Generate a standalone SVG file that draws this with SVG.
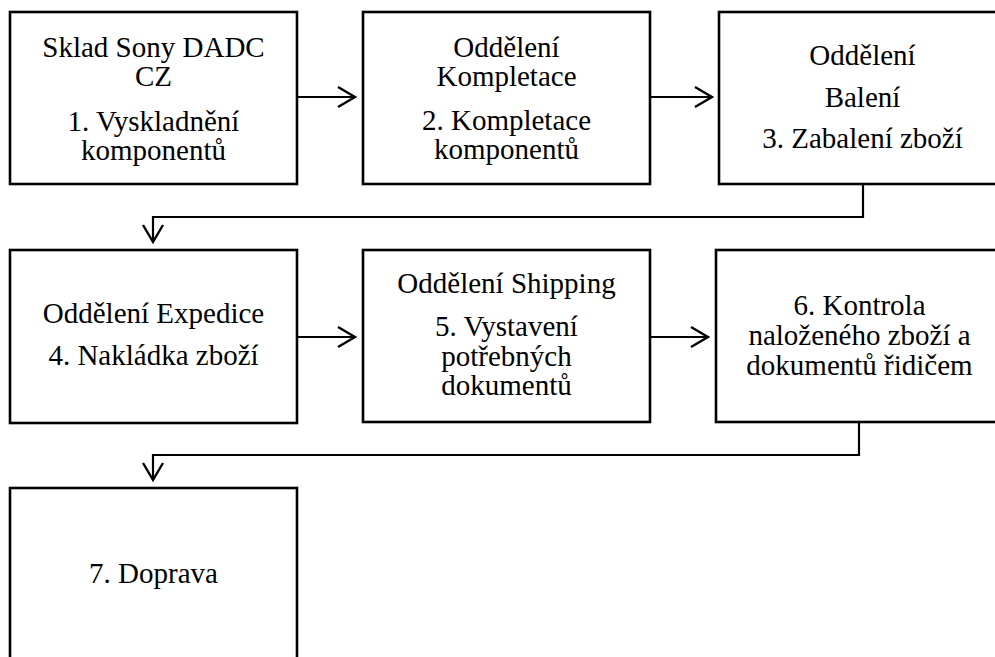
<svg xmlns="http://www.w3.org/2000/svg" width="995" height="657" viewBox="0 0 995 657">
<style>
.box{fill:#fff;stroke:#000;stroke-width:2.6}
.t{font-family:"Liberation Serif","Times New Roman",serif;font-size:29px;fill:#000;text-anchor:middle}
.c{fill:none;stroke:#000;stroke-width:2.2;marker-end:url(#arr)}
</style>
<defs>
<marker id="arr" markerUnits="userSpaceOnUse" viewBox="0 0 20 22" refX="18" refY="11" markerWidth="20" markerHeight="22" orient="auto" overflow="visible">
<path d="M1,1 L18,11 L1,21" fill="none" stroke="#000" stroke-width="2.4"/>
</marker>
</defs>
<rect width="995" height="657" fill="#fff"/>
<g id="n1"><rect class="box" x="10" y="12" width="287" height="172"/>
<text class="t" x="153.5" y="57">Sklad Sony DADC</text><text class="t" x="153.5" y="86">CZ</text>
<text class="t" x="153.5" y="131">1. Vyskladnění</text><text class="t" x="153.5" y="160">komponentů</text></g>
<g id="n2"><rect class="box" x="363" y="12" width="287" height="172"/>
<text class="t" x="506.5" y="57">Oddělení</text><text class="t" x="506.5" y="86">Kompletace</text>
<text class="t" x="506.5" y="130">2. Kompletace</text><text class="t" x="506.5" y="159">komponentů</text></g>
<g id="n3"><rect class="box" x="719" y="12" width="287" height="172"/>
<text class="t" x="862.5" y="65">Oddělení</text><text class="t" x="862.5" y="107">Balení</text>
<text class="t" x="862.5" y="148">3. Zabalení zboží</text></g>
<g id="n4"><rect class="box" x="10" y="250" width="287" height="173"/>
<text class="t" x="153.5" y="323">Oddělení Expedice</text><text class="t" x="153.5" y="365">4. Nakládka zboží</text></g>
<g id="n5"><rect class="box" x="363" y="250" width="287" height="172"/>
<text class="t" x="506.5" y="293">Oddělení Shipping</text><text class="t" x="506.5" y="336">5. Vystavení</text>
<text class="t" x="506.5" y="366">potřebných</text><text class="t" x="506.5" y="395">dokumentů</text></g>
<g id="n6"><rect class="box" x="716" y="250" width="287" height="172"/>
<text class="t" x="859.5" y="315">6. Kontrola</text><text class="t" x="859.5" y="345">naloženého zboží a</text>
<text class="t" x="859.5" y="375">dokumentů řidičem</text></g>
<g id="n7"><rect class="box" x="10" y="488" width="287" height="190"/>
<text class="t" x="153.5" y="583">7. Doprava</text></g>
<g id="connectors">
<path class="c" d="M297,97 H355"/>
<path class="c" d="M650,97 H712"/>
<path class="c" d="M863,184 V217 H153 V242"/>
<path class="c" d="M297,337 H355"/>
<path class="c" d="M650,337 H708"/>
<path class="c" d="M859,422 V455 H153 V480"/>
</g>
</svg>
